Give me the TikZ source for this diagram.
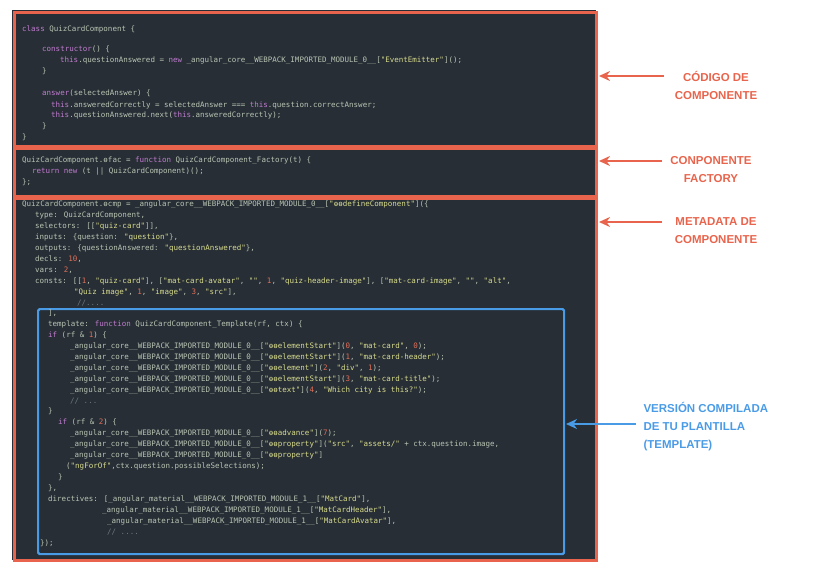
\documentclass[tikz,border=0pt]{standalone}
\usepackage{fontspec}
\setmainfont{Liberation Sans}
\newfontfamily\codefont{DejaVu Sans Mono}
\usetikzlibrary{arrows.meta}
\definecolor{bgc}{HTML}{272E35}
\definecolor{redc}{HTML}{E8644C}
\definecolor{bluec}{HTML}{4A9BE6}
\definecolor{txt}{HTML}{B9C4B4}
\definecolor{kwc}{HTML}{C07CD0}
\definecolor{stc}{HTML}{D8DC8E}
\definecolor{nmc}{HTML}{E0705A}
\definecolor{cmc}{HTML}{6E7A80}
\newcommand\kw[1]{{\color{kwc}#1}}
\newcommand\st[1]{{\color{stc}#1}}
\newcommand\nm[1]{{\color{nmc}#1}}
\newcommand\cm[1]{{\color{cmc}#1}}
\newcount\lc
\newcommand\cl[3]{\global\advance\lc by 1\node[code,name=c\the\lc] at (#1,#2) {#3};}
\begin{document}
\begin{tikzpicture}[x=1pt,y=-1pt,
  code/.style={anchor=base west,inner sep=0pt,text=txt,font=\codefont\fontsize{7.5}{8}\selectfont},
  rbox/.style={draw=redc,line width=2.6pt},
  bbox/.style={draw=bluec,line width=2.2pt,rounded corners=1.5pt},
  lab/.style={align=center,font=\bfseries\fontsize{11.5}{18}\selectfont},
  arr/.style={-{Stealth[length=11pt,width=10pt]},line width=2pt}]
\useasboundingbox (0,0) rectangle (814,570);
\fill[bgc] (12,10) rectangle (596,560);
\node[rbox,minimum width=582pt,minimum height=134pt,anchor=north west,inner sep=0pt] (b1) at (13,11) {};
\node[rbox,minimum width=582pt,minimum height=48pt,anchor=north west,inner sep=0pt] (b2) at (13,147) {};
\node[rbox,minimum width=582pt,minimum height=362pt,anchor=north west,inner sep=0pt] (b3) at (13,197) {};
\node[bbox,minimum width=526pt,minimum height=245pt,anchor=north west,inner sep=0pt] (b4) at (37,308) {};
% block 1
\cl{22}{31}{\kw{class} QuizCardComponent \{}
\cl{42}{51}{\kw{constructor}() \{}
\cl{60}{62}{\kw{this}.questionAnswered = \kw{new} \_angular\_core\_\_WEBPACK\_IMPORTED\_MODULE\_0\_\_[\st{"EventEmitter"}]();}
\cl{42}{73}{\}}
\cl{42}{95}{\kw{answer}(selectedAnswer) \{}
\cl{51}{107}{\kw{this}.answeredCorrectly = selectedAnswer === \kw{this}.question.correctAnswer;}
\cl{51}{117}{\kw{this}.questionAnswered.next(\kw{this}.answeredCorrectly);}
\cl{42}{128}{\}}
\cl{22}{139}{\}}
% block 2
\cl{22}{162}{QuizCardComponent.ɵfac = \kw{function} QuizCardComponent\_Factory(t) \{}
\cl{32}{173}{\kw{return} \kw{new} (t || QuizCardComponent)();}
\cl{22}{184}{\};}
% block 3
\cl{22}{206}{QuizCardComponent.ɵcmp = \_angular\_core\_\_WEBPACK\_IMPORTED\_MODULE\_0\_\_[\st{"ɵɵdefineComponent"}](\{}
\cl{35}{217}{type: QuizCardComponent,}
\cl{35}{228}{selectors: [[\st{"quiz-card"}]],}
\cl{35}{239}{inputs: \{question: \st{"question"}\},}
\cl{35}{250}{outputs: \{questionAnswered: \st{"questionAnswered"}\},}
\cl{35}{261}{decls: \nm{10},}
\cl{35}{272}{vars: \nm{2},}
\cl{35}{283}{consts: [[\nm{1}, \st{"quiz-card"}], [\st{"mat-card-avatar"}, \st{""}, \nm{1}, \st{"quiz-header-image"}], [\st{"mat-card-image"}, \st{""}, \st{"alt"},}
\cl{74}{294}{\st{"Quiz image"}, \nm{1}, \st{"image"}, \nm{3}, \st{"src"}],}
\cl{77}{305}{\cm{//....}}
\cl{48}{315}{],}
\cl{48}{326}{template: \kw{function} QuizCardComponent\_Template(rf, ctx) \{}
\cl{48}{337}{\kw{if} (rf \& \nm{1}) \{}
\cl{70}{348}{\_angular\_core\_\_WEBPACK\_IMPORTED\_MODULE\_0\_\_[\st{"ɵɵelementStart"}](\nm{0}, \st{"mat-card"}, \nm{0});}
\cl{70}{359}{\_angular\_core\_\_WEBPACK\_IMPORTED\_MODULE\_0\_\_[\st{"ɵɵelementStart"}](\nm{1}, \st{"mat-card-header"});}
\cl{70}{370}{\_angular\_core\_\_WEBPACK\_IMPORTED\_MODULE\_0\_\_[\st{"ɵɵelement"}](\nm{2}, \st{"div"}, \nm{1});}
\cl{70}{381}{\_angular\_core\_\_WEBPACK\_IMPORTED\_MODULE\_0\_\_[\st{"ɵɵelementStart"}](\nm{3}, \st{"mat-card-title"});}
\cl{70}{392}{\_angular\_core\_\_WEBPACK\_IMPORTED\_MODULE\_0\_\_[\st{"ɵɵtext"}](\nm{4}, \st{"Which city is this?"});}
\cl{70}{403}{\cm{// ...}}
\cl{48}{413}{\}}
\cl{58}{424}{\kw{if} (rf \& \nm{2}) \{}
\cl{70}{435}{\_angular\_core\_\_WEBPACK\_IMPORTED\_MODULE\_0\_\_[\st{"ɵɵadvance"}](\nm{7});}
\cl{70}{446}{\_angular\_core\_\_WEBPACK\_IMPORTED\_MODULE\_0\_\_[\st{"ɵɵproperty"}](\st{"src"}, \st{"assets/"} + ctx.question.image,}
\cl{70}{457}{\_angular\_core\_\_WEBPACK\_IMPORTED\_MODULE\_0\_\_[\st{"ɵɵproperty"}]}
\cl{66}{468}{(\st{"ngForOf"},ctx.question.possibleSelections);}
\cl{58}{479}{\}}
\cl{48}{490}{\},}
\cl{48}{501}{directives: [\_angular\_material\_\_WEBPACK\_IMPORTED\_MODULE\_1\_\_[\st{"MatCard"}],}
\cl{102}{512}{\_angular\_material\_\_WEBPACK\_IMPORTED\_MODULE\_1\_\_[\st{"MatCardHeader"}],}
\cl{107}{523}{\_angular\_material\_\_WEBPACK\_IMPORTED\_MODULE\_1\_\_[\st{"MatCardAvatar"}],}
\cl{107}{534}{\cm{// ....}}
\cl{40}{545}{\});}
% labels
\node[lab,text=redc] (l1) at (716,85) {CÓDIGO DE\\COMPONENTE};
\node[lab,text=redc] (l2) at (711,170) {CONPONENTE\\FACTORY};
\node[lab,text=redc] (l3) at (716,231) {METADATA DE\\COMPONENTE};
\node[lab,text=bluec,align=left,anchor=west] (l4) at (640,427) {VERSIÓN COMPILADA\\DE TU PLANTILLA\\(TEMPLATE)};
\coordinate (a1) at (664,76); \coordinate (e1) at (599,76);
\coordinate (a2) at (662,161); \coordinate (e2) at (599,161);
\coordinate (a3) at (662,222); \coordinate (e3) at (599,222);
\coordinate (a4) at (636,424); \coordinate (e4) at (566,424);
\draw[arr,redc] (a1) -- (e1);
\draw[arr,redc] (a2) -- (e2);
\draw[arr,redc] (a3) -- (e3);
\draw[arr,bluec] (a4) -- (e4);
\end{tikzpicture}
\end{document}
